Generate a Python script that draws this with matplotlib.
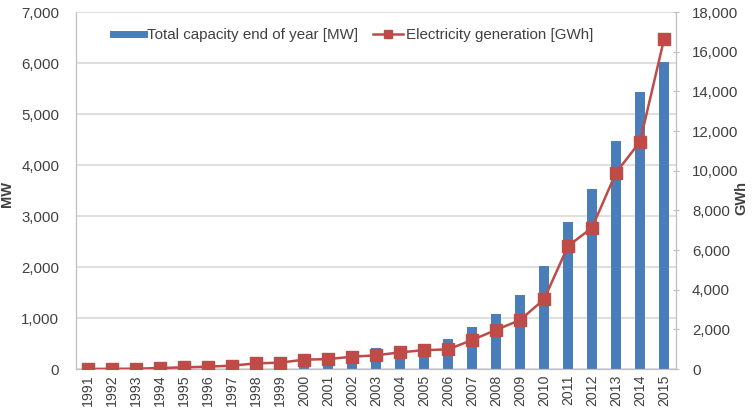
import matplotlib
matplotlib.use("Agg")
import matplotlib.pyplot as plt
from matplotlib.ticker import FuncFormatter, MultipleLocator
from matplotlib.lines import Line2D

plt.rcParams['font.family'] = ['Liberation Sans', 'DejaVu Sans']

years = list(range(1991, 2016))
capacity_mw = [10, 15, 25, 35, 50, 70, 100, 150, 200, 230, 280, 340, 405, 455, 500,
               580, 820, 1085, 1445, 2020, 2890, 3520, 4478, 5435, 6028]
generation_gwh = [5, 10, 15, 50, 85, 118, 170, 285, 320, 470, 500, 620, 690, 840, 950,
                  990, 1460, 1970, 2470, 3510, 6200, 7125, 9900, 11460, 16630]

bar_color = '#4A7EBB'
line_color = '#BE4B48'
grid_color = '#D9D9D9'
spine_color = '#BFBFBF'
text_color = '#404040'

fig = plt.figure(figsize=(7.52, 4.19), dpi=100)
ax = fig.add_axes([0.101, 0.1193, 0.798, 0.852])
ax2 = ax.twinx()

x = list(range(len(years)))
ax.bar(x, capacity_mw, width=0.42, color=bar_color, zorder=2)
ax2.plot(x, generation_gwh, color=line_color, lw=1.8, marker='s', markersize=8,
         markerfacecolor=line_color, markeredgecolor=line_color, zorder=3)

ax.set_xlim(-0.5, len(years) - 0.5)
ax.set_ylim(0, 7000)
ax2.set_ylim(0, 18000)
ax.yaxis.set_major_locator(MultipleLocator(1000))
ax2.yaxis.set_major_locator(MultipleLocator(2000))
fmt = FuncFormatter(lambda v, p: f"{int(v):,}")
ax.yaxis.set_major_formatter(fmt)
ax2.yaxis.set_major_formatter(fmt)

ax.set_xticks(x)
ax.set_xticklabels([str(y) for y in years], rotation=90, fontsize=10.2, color=text_color)
ax.tick_params(axis='x', length=0, pad=4)
ax.tick_params(axis='y', length=0, labelsize=10.8, labelcolor=text_color, pad=12)
ax2.tick_params(axis='y', direction='inout', length=5, color=spine_color,
                labelsize=10.8, labelcolor=text_color, pad=9)

ax.grid(axis='y', color=grid_color, lw=1.2, zorder=0)
ax.set_axisbelow(True)
for a in (ax, ax2):
    a.spines['top'].set_visible(False)
    a.spines['left'].set_color(spine_color)
    a.spines['right'].set_color(spine_color)
    a.spines['bottom'].set_color(spine_color)

ax.set_ylabel('MW', fontsize=10.5, fontweight='bold', color=text_color)
ax2.set_ylabel('GWh', fontsize=10.5, fontweight='bold', color=text_color)
ax.yaxis.set_label_coords(-0.103, 0.49)
ax2.yaxis.set_label_coords(1.0967, 0.479)

handles = [Line2D([0], [0], color=bar_color, lw=5),
           Line2D([0], [0], color=line_color, lw=1.8, marker='s', markersize=6)]
labels = ['Total capacity end of year [MW]', 'Electricity generation [GWh]']
leg = ax.legend(handles, labels, loc='center', bbox_to_anchor=(0.4625, 0.936),
                ncol=2, frameon=False, fontsize=10.9, handlelength=2.0,
                handletextpad=0.2, columnspacing=1.0)
for t in leg.get_texts():
    t.set_color(text_color)

fig.savefig('out.png', dpi=100)
